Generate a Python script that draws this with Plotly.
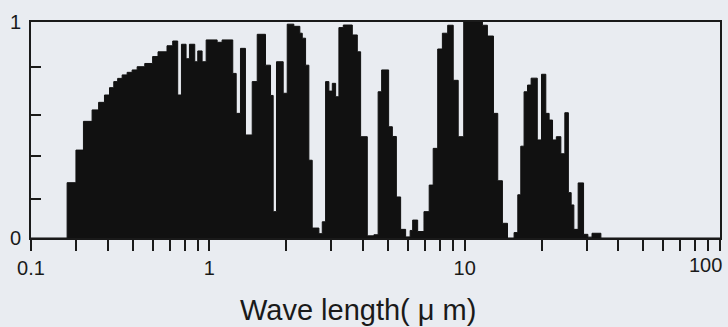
import plotly.graph_objects as go

# Bin start wavelengths (um) and transmittance of each bin
edges_um = [0.2, 0.277, 0.300, 0.321, 0.347, 0.368, 0.388, 0.406, 0.422, 0.437,
            0.455, 0.476, 0.498, 0.521, 0.558, 0.599, 0.629, 0.682, 0.718, 0.751,
            0.777, 0.810, 0.835, 0.876, 0.900, 0.936, 0.971, 1.072, 1.121, 1.234,
            1.273, 1.323, 1.384, 1.471, 1.539, 1.658, 1.735, 1.777, 1.831, 1.945,
            2.017, 2.141, 2.260, 2.310, 2.380, 2.452, 2.527, 2.684, 2.767, 2.851,
            2.937, 3.029, 3.121, 3.215, 3.345, 3.628, 3.795, 3.910, 4.153, 4.409,
            4.580, 4.727, 5.035, 5.206, 5.398, 5.610, 5.869, 6.113, 6.253, 6.542,
            6.925, 7.258, 7.525, 7.837, 8.176, 8.577, 9.015, 9.430, 9.910, 11.73,
            12.27, 12.96, 13.47, 14.05, 14.71, 15.61, 16.14, 16.58, 17.08, 17.62,
            18.20, 19.24, 19.99, 20.78, 21.41, 22.08, 22.85, 23.80, 24.67, 25.47,
            26.12, 26.76, 27.82, 29.21, 30.37, 31.53, 34.15, 100]
transmittance = [0, 0.256, 0.407, 0.54, 0.593, 0.628, 0.662, 0.696, 0.724, 0.739,
                 0.755, 0.767, 0.778, 0.793, 0.808, 0.84, 0.862, 0.89, 0.912, 0.662,
                 0.897, 0.83, 0.897, 0.816, 0.866, 0.816, 0.917, 0.906, 0.917, 0.762,
                 0.577, 0.878, 0.477, 0.724, 0.943, 0.80, 0.66, 0.122, 0.816, 0.67,
                 0.99, 0.98, 0.948, 0.925, 0.80, 0.36, 0.046, 0.02, 0.075, 0.724,
                 0.68, 0.716, 0.654, 0.974, 0.986, 0.94, 0.862, 0.469, 0.01, 0.015,
                 0.677, 0.778, 0.515, 0.47, 0.19, 0.04, 0.005, 0.035, 0.083, 0.03,
                 0.122, 0.245, 0.415, 0.875, 0.948, 0.985, 0.73, 0.469, 1.0, 0.985,
                 0.935, 0.577, 0.265, 0.068, 0.0, 0.025, 0.2, 0.425, 0.677, 0.708,
                 0.74, 0.454, 0.758, 0.577, 0.546, 0.454, 0.469, 0.39, 0.58, 0.21,
                 0.153, 0.04, 0.255, 0.017, 0.004, 0.022, 0, 0]

x_tickvals = [0.2, 1, 10, 100]
x_ticktext = ["0.1", "1", "10", ""]
x_minor = [0.3, 0.4, 0.5, 0.6, 0.7, 0.8, 0.9,
           2, 3, 4, 5, 6, 7, 8, 9,
           20, 30, 40, 50, 60, 70, 80, 90]
y_tickvals = [0, 1]
y_ticktext = ["0", "1"]
y_minor = [0.18, 0.38, 0.57, 0.79]
x_title = "Wave length( μ m)"

BG = "#e9ecf1"
FONT = "Liberation Sans, Arial, sans-serif"

fig = go.Figure()
fig.add_trace(go.Scatter(
    x=edges_um, y=transmittance, mode="lines", line_shape="hv",
    fill="tozeroy", fillcolor="#111111",
    line=dict(color="#111111", width=1), showlegend=False, hoverinfo="skip"))

fig.update_layout(
    width=728, height=327,
    margin=dict(l=31, r=8, t=22, b=89, autoexpand=False),
    paper_bgcolor=BG, plot_bgcolor=BG,
    font=dict(family=FONT, color="#1a1a1a"),
    xaxis=dict(
        type="log", range=[-0.69897, 2], showgrid=False, zeroline=False,
        automargin=False,
        showline=True, linecolor="#1a1a1a", linewidth=2, mirror=True,
        tickmode="array", tickvals=x_tickvals, ticktext=x_ticktext,
        ticks="outside", ticklen=11, tickwidth=2, tickcolor="#1a1a1a",
        tickfont=dict(size=20),
        minor=dict(tickmode="array", tickvals=x_minor, ticks="outside",
                   ticklen=11, tickwidth=2, tickcolor="#1a1a1a", showgrid=False),
    ),
    yaxis=dict(
        range=[0, 1], showgrid=False, zeroline=False, automargin=False,
        showline=True, linecolor="#1a1a1a", linewidth=2, mirror=True,
        tickmode="array", tickvals=y_tickvals, ticktext=y_ticktext,
        ticks="", tickfont=dict(size=20), ticklabelstandoff=4,
        minor=dict(tickmode="array", tickvals=y_minor, ticks="inside",
                   ticklen=10, tickwidth=2, tickcolor="#1a1a1a", showgrid=False),
    ),
    annotations=[
        dict(x=2, y=0, xref="x", yref="y", text="100", showarrow=False,
             xanchor="right", yanchor="top", yshift=-14, xshift=4,
             font=dict(size=20, family=FONT, color="#1a1a1a")),
        dict(x=0.475, y=-0.333, xref="paper", yref="paper", text=x_title,
             showarrow=False, xanchor="center", yanchor="middle",
             font=dict(size=29, family=FONT, color="#1a1a1a")),
    ],
)

fig.write_html(
    "out.html",
    config={"displayModeBar": False},
    post_script="document.body.style.margin='0';"
                "document.body.style.background='" + BG + "';",
)
